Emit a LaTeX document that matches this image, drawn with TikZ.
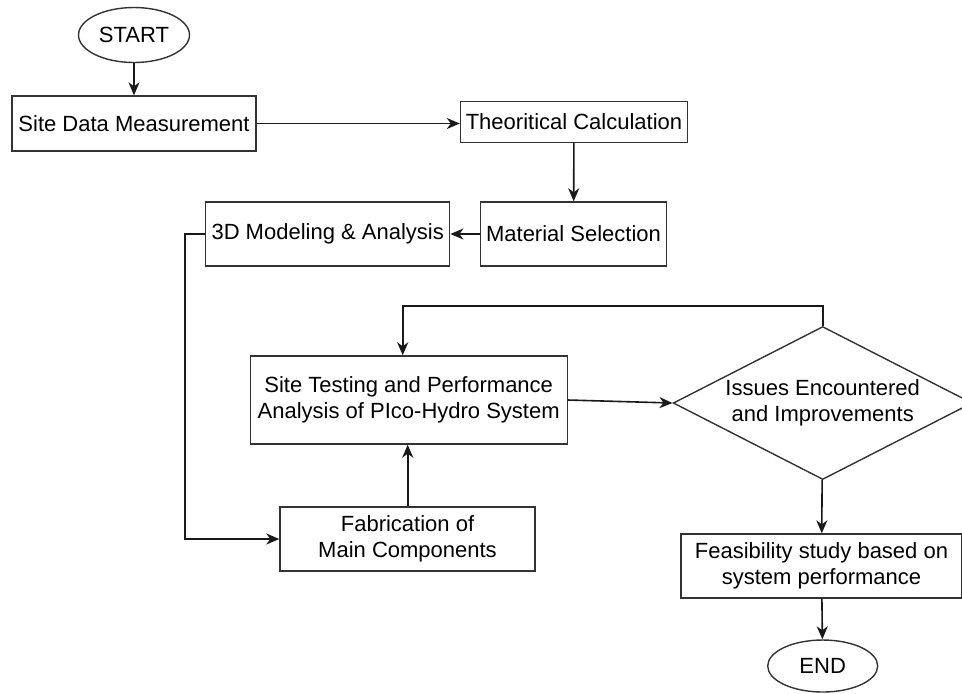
\documentclass[tikz,border=0pt]{standalone}
\usepackage{fontspec}
\setmainfont{Liberation Sans}
\usetikzlibrary{shapes.geometric,arrows.meta}

\begin{document}
\begin{tikzpicture}
	[
		x=0.5pt, y=-0.5pt,
		font=\fontsize{11}{13}\selectfont,
		>={Stealth[length=6.5pt,width=5.5pt,inset=2pt]},
		process/.style={draw=black!80, line width=0.7pt, rectangle, align=center, inner sep=2pt},
		terminal/.style={draw=black!80, line width=0.7pt, ellipse, align=center, inner sep=0pt},
		decision/.style={draw=black!80, line width=0.7pt, diamond, aspect=2, align=center, inner sep=0pt},
		flow/.style={draw=black!90, ->, line width=0.8pt}
	]

	\useasboundingbox (0,0) rectangle (962,693);

	% left column
	\node
	[terminal, minimum width=55.5pt, minimum height=27.5pt]
	(start) at (134,35)
	{START};

	\node
	[process, minimum width=122pt, minimum height=27.5pt]
	(sitedata) at (134,123.5)
	{Site Data Measurement};

	\node
	[process, minimum width=113.5pt, minimum height=20.5pt]
	(theory) at (574,121.7)
	{Theoritical Calculation};

	\node
	[process, minimum width=93pt, minimum height=32pt]
	(material) at (573.5,234)
	{Material Selection};

	\node
	[process, minimum width=122pt, minimum height=32pt]
	(modeling) at (327.7,234)
	{3D Modeling \& Analysis};

	% middle part
	\node
	[process, minimum width=158.5pt, minimum height=44pt]
	(testing) at (408.7,400)
	{Site Testing and Performance\\Analysis of PIco-Hydro System};

	\node
	[process, minimum width=127.5pt, minimum height=32pt]
	(fabrication) at (407.5,539)
	{Fabrication of\\Main Components};

	% right column
	\node
	[decision, minimum width=149.5pt, minimum height=76.5pt]
	(issues) at (822.7,403)
	{Issues Encountered\\and Improvements};

	\node
	[process, minimum width=140.5pt, minimum height=32pt]
	(feasibility) at (821.5,566)
	{Feasibility study based on\\system performance};

	\node
	[terminal, minimum width=55pt, minimum height=26pt]
	(end) at (822.7,666)
	{END};

	\coordinate (loop) at (402.7,305.7);

	\path
	(start)         edge [flow] (sitedata)
	(sitedata.east) edge [flow] (sitedata.east -| theory.west)
	(theory)        edge [flow] (material)
	(material)      edge [flow] (modeling)
	(fabrication.north -| 407.7,0) edge [flow] (testing.south -| 407.7,0)
	(testing.east)  edge [flow] (issues.west)
	(issues)        edge [flow] (feasibility)
	(feasibility)   edge [flow] (end);

	\draw [flow] (modeling.west) -- ++(-20,0) |- (fabrication.west);
	\draw [flow] (issues.north) |- (loop) -- (loop |- testing.north);

\end{tikzpicture}
\end{document}
